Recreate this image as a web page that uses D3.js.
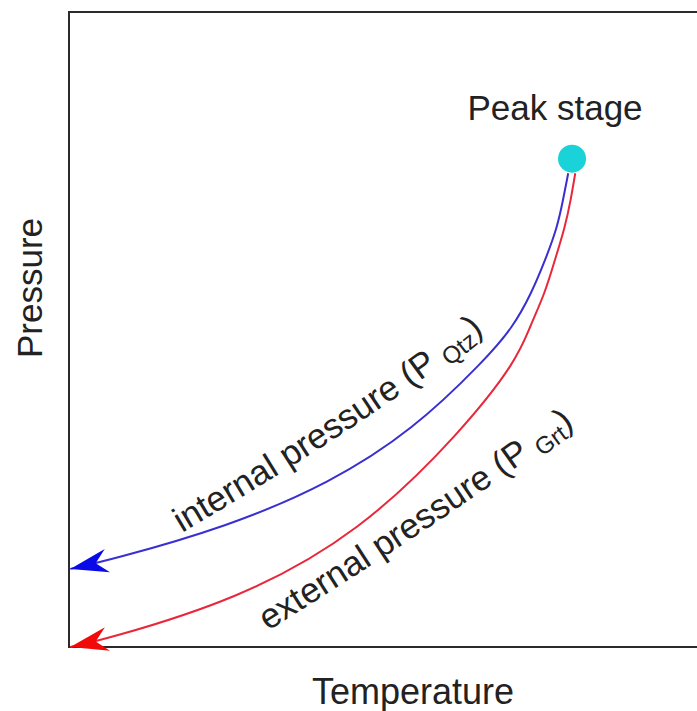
<!DOCTYPE html>
<html>
<head>
<meta charset="utf-8">
<title>P-T path</title>
<script src="https://d3js.org/d3.v7.min.js"></script>
<style>
  body { margin: 0; background: #fff; }
  text { font-family: "Liberation Sans", Arial, sans-serif; fill: #222; }
</style>
</head>
<body>
<div id="chart"></div>
<script>
// curve points (arbitrary 0-100 units)
var internalT = [0.2, 6.4, 24.7, 40.8, 53.8, 65.0, 69.4, 72.3, 74.4, 76.3, 77.2, 78.0];
var internalP = [12.3, 13.7, 18.9, 25.8, 34.2, 45.2, 50.4, 55.8, 60.9, 66.1, 70.4, 74.6];
var externalT = [0.2, 5.3, 26.3, 45.5, 61.6, 70.0, 72.0, 74.4, 75.9, 77.5, 78.4, 79.1];
var externalP = [0.0, 1.1, 7.4, 18.0, 34.2, 45.2, 50.4, 55.8, 60.9, 66.1, 70.4, 74.6];
var peakT = [78.6];
var peakP = [76.9];

var W = 697, H = 711;
var margin = {top: 12, right: -12, bottom: 64, left: 69};

var svg = d3.select("#chart").append("svg")
    .attr("width", W)
    .attr("height", H);

var x = d3.scaleLinear().domain([0, 100]).range([margin.left, W - margin.right]);
var y = d3.scaleLinear().domain([0, 100]).range([H - margin.bottom, margin.top]);

// arrow heads
var defs = svg.append("defs");
function arrow(id, col) {
  defs.append("marker")
      .attr("id", id)
      .attr("markerUnits", "userSpaceOnUse")
      .attr("viewBox", "0 -13 38 26")
      .attr("markerWidth", 38)
      .attr("markerHeight", 26)
      .attr("refX", 38)
      .attr("refY", 0)
      .attr("orient", "auto-start-reverse")
    .append("path")
      .attr("d", "M38,0 L0,-12 L12,0 L0,12 Z")
      .attr("fill", col);
}
arrow("headBlue", "#0a0ae8");
arrow("headRed", "#f20a0a");

// frame
svg.append("rect")
    .attr("x", x(0))
    .attr("y", y(100))
    .attr("width", x(100) - x(0))
    .attr("height", y(0) - y(100))
    .attr("fill", "none")
    .attr("stroke", "#2b2b2b")
    .attr("stroke-width", 2);

// smooth through the read-off points
var line = d3.line()
    .x(function(d) { return x(d[0]); })
    .y(function(d) { return y(d[1]); })
    .curve(d3.curveBasis);

svg.append("path")
    .attr("d", line(d3.zip(internalT, internalP)))
    .attr("fill", "none")
    .attr("stroke", "#3a2fd0")
    .attr("stroke-width", 2)
    .attr("marker-start", "url(#headBlue)");

svg.append("path")
    .attr("d", line(d3.zip(externalT, externalP)))
    .attr("fill", "none")
    .attr("stroke", "#e8283a")
    .attr("stroke-width", 2)
    .attr("marker-start", "url(#headRed)");

// peak point
svg.selectAll(".peak")
    .data(d3.zip(peakT, peakP))
  .enter().append("circle")
    .attr("class", "peak")
    .attr("cx", function(d) { return x(d[0]); })
    .attr("cy", function(d) { return y(d[1]); })
    .attr("r", 14)
    .attr("fill", "#1ad3d8");

svg.append("text")
    .attr("x", 555)
    .attr("y", 120)
    .attr("text-anchor", "middle")
    .style("font-size", "35px")
    .text("Peak stage");

// guide paths for the curved labels (text baselines)
var guide = d3.line().curve(d3.curveCatmullRom);
defs.append("path").attr("id", "guideInternal")
    .attr("d", guide([[182, 533], [300, 461], [425, 377], [500, 318], [545, 275]]));
defs.append("path").attr("id", "guideExternal")
    .attr("d", guide([[268, 631], [390, 553], [510, 472], [585, 418], [640, 375]]));

function curveLabel(pathId, main, sub) {
  var tp = svg.append("text")
      .style("font-size", "35px")
    .append("textPath")
      .attr("href", "#" + pathId);
  tp.append("tspan").text(main);
  tp.append("tspan").attr("dy", 6).style("font-size", "24px").text(sub);
  tp.append("tspan").attr("dy", -6).text(")");
}
curveLabel("guideInternal", "internal pressure (P ", "Qtz");
curveLabel("guideExternal", "external pressure (P ", "Grt");

// axis titles
svg.append("text")
    .attr("x", 413)
    .attr("y", 704)
    .attr("text-anchor", "middle")
    .style("font-size", "36px")
    .text("Temperature");

svg.append("text")
    .attr("transform", "translate(42,288) rotate(-90)")
    .attr("text-anchor", "middle")
    .style("font-size", "35px")
    .text("Pressure");
</script>
</body>
</html>
